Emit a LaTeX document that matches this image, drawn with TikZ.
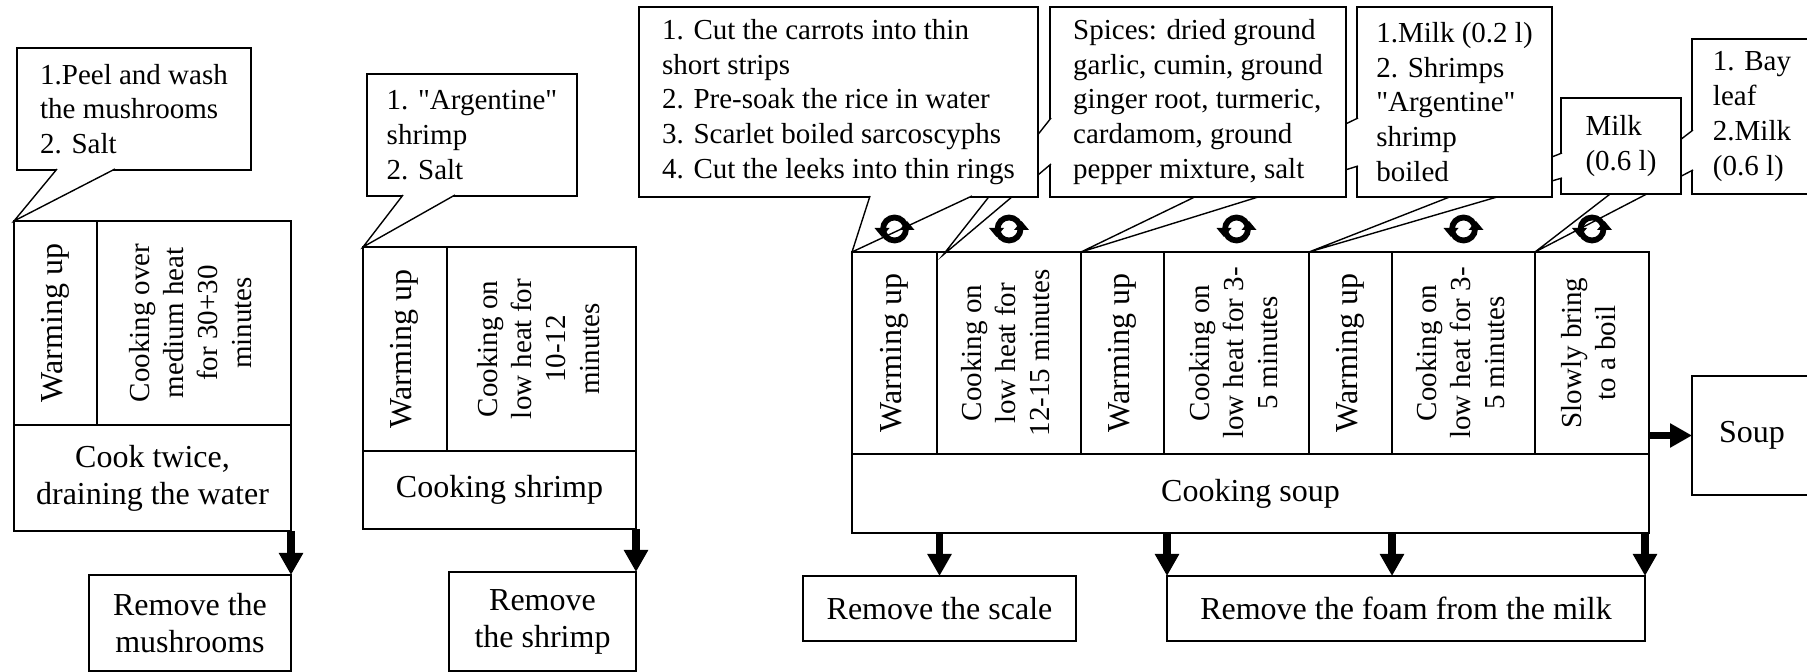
\documentclass[tikz,border=0pt]{standalone}
\usepackage{fontspec}
\setmainfont{Liberation Serif}
\usepackage{graphicx}
\usetikzlibrary{arrows.meta,positioning,calc}

\newcommand{\cellsize}{\fontsize{14.5}{17}\selectfont}
\newcommand{\notesize}{\fontsize{14.5}{17.4}\selectfont}
\newcommand{\titlesize}{\fontsize{16}{18.5}\selectfont}
\newcommand{\vtxt}[1]{\rotatebox{90}{\begin{tabular}{@{}c@{}}#1\end{tabular}}}

\begin{document}
\begin{tikzpicture}[
    x=0.5pt, y=-0.5pt,
    cell/.style={draw,line width=0.7pt,inner sep=0pt,outer sep=0pt,align=center,font=\cellsize},
    title/.style={cell,font=\titlesize},
    callout/.style={draw,fill=white,line width=0.7pt,inner sep=0pt,outer sep=0pt,align=left,font=\notesize},
    tail/.style={draw,fill=white,line width=0.7pt},
    arrow/.style={line width=3.6pt,-{Triangle[width=11.5pt,length=11pt]}},
    stir/.pic={
        \draw[line width=2.9pt] (0,0) circle (11.5);
        \fill (-20,-1) -- (-5,-1) -- (-12.5,8) -- cycle;
        \fill (5,1) -- (20,1) -- (12.5,-8) -- cycle;
    }
]
    \useasboundingbox (0,0) rectangle (1807,672);
    \fill[white] (0,0) rectangle (1807,672);
    \clip (0,0) rectangle (1807,672);

    % mushrooms
    \node[cell,minimum width=41.5pt,minimum height=102pt,anchor=north west] (mWarm) at (14,221) {\vtxt{\titlesize Warming up}};
    \node[cell,minimum width=97pt,minimum height=102pt,right=0pt of mWarm] (mCook) {\vtxt{Cooking over\\medium heat\\for 30+30\\minutes}};
    \node[title,minimum width=138.5pt,minimum height=53pt,anchor=north west] (mBase) at (mWarm.south west) {Cook twice,\\draining the water};
    \node[title,minimum width=101pt,minimum height=48pt,anchor=north east] (mRemove) at (291,575) {Remove the\\mushrooms};
    \node[callout,minimum width=117pt,minimum height=61pt,anchor=north west] (mCall) at (17,48) {1.Peel and wash\\the mushrooms\\2. Salt};
    \draw[tail] ($(mCall.south west)+(40,-1)$) -- (mWarm.north west) -- ($(mCall.south west)+(98,-1)$);
    \draw[arrow] (mBase.south east) -- (mRemove.north east);

    % shrimp
    \node[cell,minimum width=42pt,minimum height=102pt,anchor=north west] (sWarm) at (363,247) {\vtxt{\titlesize Warming up}};
    \node[cell,minimum width=94.5pt,minimum height=102pt,right=0pt of sWarm] (sCook) {\vtxt{Cooking on\\low heat for\\10-12\\minutes}};
    \node[title,minimum width=136.5pt,minimum height=39pt,anchor=north west] (sBase) at (sWarm.south west) {Cooking shrimp};
    \node[title,minimum width=93.5pt,minimum height=49.5pt,anchor=north east] (sRemove) at (636,572) {Remove\\the shrimp};
    \node[callout,minimum width=105pt,minimum height=61pt,anchor=north west] (sCall) at (367,74) {1. \textquotedbl Argentine\textquotedbl\\shrimp\\2. Salt};
    \draw[tail] ($(sCall.south west)+(36,-1)$) -- (sWarm.north west) -- ($(sCall.south west)+(88,-1)$);
    \draw[arrow] (sBase.south east) -- (sRemove.north east);

    % soup
    \node[cell,minimum width=42.5pt,minimum height=101pt,anchor=north west] (b1) at (852,252) {\vtxt{\titlesize Warming up}};
    \node[cell,minimum width=72pt,minimum height=101pt,right=0pt of b1] (b2) {\vtxt{Cooking on\\low heat for\\12-15 minutes}};
    \node[cell,minimum width=41.5pt,minimum height=101pt,right=0pt of b2] (b3) {\vtxt{\titlesize Warming up}};
    \node[cell,minimum width=72.5pt,minimum height=101pt,right=0pt of b3] (b4) {\vtxt{Cooking on\\low heat for 3-\\5 minutes}};
    \node[cell,minimum width=41.5pt,minimum height=101pt,right=0pt of b4] (b5) {\vtxt{\titlesize Warming up}};
    \node[cell,minimum width=71.5pt,minimum height=101pt,right=0pt of b5] (b6) {\vtxt{Cooking on\\low heat for 3-\\5 minutes}};
    \node[cell,minimum width=57pt,minimum height=101pt,right=0pt of b6] (b7) {\vtxt{Slowly bring\\to a boil}};
    \node[title,minimum width=398.5pt,minimum height=39.5pt,anchor=north west] (cook) at (b1.south west) {Cooking soup};
    \node[title,minimum width=136.5pt,minimum height=32.5pt,anchor=north west] (rmScale) at (803,576) {Remove the scale};
    \node[title,minimum width=239pt,minimum height=32.5pt,anchor=north west] (rmFoam) at (1167,576) {Remove the foam from the milk};
    \node[title,minimum width=60pt,minimum height=59.5pt,anchor=north west] (soupOut) at (1692,376) {Soup};

    % callouts, right to left
    \node[callout,minimum width=60pt,minimum height=77.5pt,anchor=north west] (bay) at (1692,39) {1. Bay\\leaf\\2.Milk\\(0.6 l)};
    \draw[tail] ($(bay.north west)+(1,91)$) -- (b7.north west) -- ($(bay.north west)+(1,131)$);
    \node[callout,minimum width=60pt,minimum height=48pt,anchor=north west] (mkB) at (1561,98) {Milk\\(0.6 l)};
    \draw[tail] ($(mkB.north west)+(1,55)$) -- (b5.north west) -- ($(mkB.north west)+(1,80)$);
    \node[callout,minimum width=97.5pt,minimum height=95pt,anchor=north west] (mkA) at (1357,7) {1.Milk (0.2 l)\\2. Shrimps\\\textquotedbl Argentine\textquotedbl\\shrimp\\boiled};
    \draw[tail] ($(mkA.north west)+(1,111)$) -- (b3.north west) -- ($(mkA.north west)+(1,159)$);
    \node[callout,minimum width=148pt,minimum height=95pt,anchor=north west] (spices) at (1050,7) {Spices: dried ground\\garlic, cumin, ground\\ginger root, turmeric,\\cardamom, ground\\pepper mixture, salt};
    \draw[tail] ($(spices.north west)+(1,111)$) -- ($(b2.north west)+(6,3)$) -- ($(spices.north west)+(1,157)$);
    \node[callout,minimum width=199.5pt,minimum height=95pt,anchor=north west] (carrot) at (639,7) {1. Cut the carrots into thin\\short strips\\2. Pre-soak the rice in water\\3. Scarlet boiled sarcoscyphs\\4. Cut the leeks into thin rings};
    \draw[tail] ($(carrot.south west)+(231,-1)$) -- (b1.north west) -- ($(carrot.south west)+(333,-1)$);

    \foreach \c in {b1,b2,b4,b6,b7}
        \pic at ($(\c.north)+(0,-23)$) {stir};

    \draw[arrow] (cook.south -| rmScale.north) -- (rmScale.north);
    \draw[arrow] (cook.south -| rmFoam.north west) -- (rmFoam.north west);
    \draw[arrow] (cook.south -| b6.south west) -- (rmFoam.north -| b6.south west);
    \draw[arrow] (cook.south -| rmFoam.north east) -- (rmFoam.north east);
    \draw[arrow] (soupOut.west -| cook.east) -- (soupOut.west);
\end{tikzpicture}
\end{document}
